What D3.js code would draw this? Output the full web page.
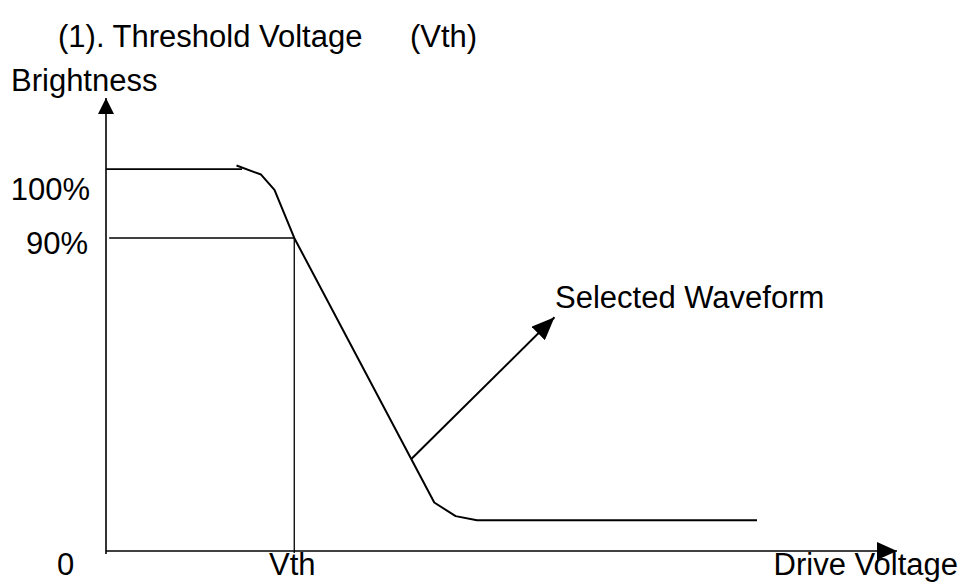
<!DOCTYPE html>
<html>
<head>
<meta charset="utf-8">
<script src="https://cdn.jsdelivr.net/npm/d3@7"></script>
<style>
  html, body { margin: 0; padding: 0; background: #fff; }
  text { font-family: "Liberation Sans", Arial, sans-serif; font-size: 31px; fill: #000; }
</style>
</head>
<body>
<svg width="959" height="582"></svg>
<script>
// brightness vs drive voltage, arbitrary units (0..100 on both axes)
const curveX = [16.5, 19.6, 21.3, 23.8, 41.5, 44.2, 46.9, 82.3];
const curveY = [85.1, 83.1, 79.7, 69.1, 10.7, 7.7, 6.8, 6.8];

const level100 = 84.3;   // brightness shown as "100%"
const level90 = 69.1;    // brightness shown as "90%"
const vth = 23.8;        // drive voltage at 90%
const level100End = 17.2;

// pointer from the curve to the label
const pointerX = [38.6, 56.7];
const pointerY = [20.3, 51.6];

const svg = d3.select('svg');

const x = d3.scaleLinear().domain([0, 100]).range([106, 897]);
const y = d3.scaleLinear().domain([0, 100]).range([551, 98]);

const defs = svg.append('defs');
function arrowMarker(id, w, h) {
  defs.append('marker')
    .attr('id', id)
    .attr('viewBox', `0 0 ${w} ${h}`)
    .attr('refX', w)
    .attr('refY', h / 2)
    .attr('markerWidth', w)
    .attr('markerHeight', h)
    .attr('markerUnits', 'userSpaceOnUse')
    .attr('orient', 'auto')
    .append('path')
    .attr('d', `M0,0L${w},${h / 2}L0,${h}Z`)
    .attr('fill', '#000');
}
arrowMarker('axisArrowY', 16, 16);
arrowMarker('axisArrowX', 20, 18);
arrowMarker('pointerArrow', 23, 19);

// axes
svg.append('line')
  .attr('x1', x(0)).attr('y1', y(0) + 3)
  .attr('x2', x(0)).attr('y2', y(100))
  .attr('stroke', '#000').attr('stroke-width', 1.6)
  .attr('marker-end', 'url(#axisArrowY)');

svg.append('line')
  .attr('x1', x(0)).attr('y1', y(0))
  .attr('x2', x(100)).attr('y2', y(0))
  .attr('stroke', '#000').attr('stroke-width', 1.6)
  .attr('marker-end', 'url(#axisArrowX)');

// guide lines
svg.append('line')
  .attr('x1', x(0)).attr('y1', y(level100))
  .attr('x2', x(level100End)).attr('y2', y(level100))
  .attr('stroke', '#000').attr('stroke-width', 1.6);

svg.append('line')
  .attr('x1', x(0.4)).attr('y1', y(level90))
  .attr('x2', x(vth)).attr('y2', y(level90))
  .attr('stroke', '#000').attr('stroke-width', 1.6);

svg.append('line')
  .attr('x1', x(vth)).attr('y1', y(level90))
  .attr('x2', x(vth)).attr('y2', y(0) + 2)
  .attr('stroke', '#000').attr('stroke-width', 1.3);

// brightness curve
const line = d3.line()
  .x(d => x(d[0]))
  .y(d => y(d[1]));

svg.append('path')
  .datum(d3.zip(curveX, curveY))
  .attr('d', line)
  .attr('fill', 'none')
  .attr('stroke', '#000')
  .attr('stroke-width', 2)
  .attr('stroke-linejoin', 'round');

svg.append('path')
  .datum(d3.zip(pointerX, pointerY))
  .attr('d', line)
  .attr('fill', 'none')
  .attr('stroke', '#000')
  .attr('stroke-width', 2)
  .attr('marker-end', 'url(#pointerArrow)');

// texts
svg.append('text').attr('x', 58).attr('y', 47).text('(1). Threshold Voltage');
svg.append('text').attr('x', 410).attr('y', 47).text('(Vth)');
svg.append('text').attr('x', 11).attr('y', 91).text('Brightness');
svg.append('text').attr('x', 90).attr('y', 200).attr('text-anchor', 'end').text('100%');
svg.append('text').attr('x', 88).attr('y', 254).attr('text-anchor', 'end').text('90%');
svg.append('text').attr('x', 57).attr('y', 575).text('0');
svg.append('text').attr('x', x(vth) - 2).attr('y', 575).attr('text-anchor', 'middle').text('Vth');
svg.append('text').attr('x', 958).attr('y', 575).attr('text-anchor', 'end').text('Drive Voltage');
svg.append('text').attr('x', 555).attr('y', 308).text('Selected Waveform');
</script>
</body>
</html>
